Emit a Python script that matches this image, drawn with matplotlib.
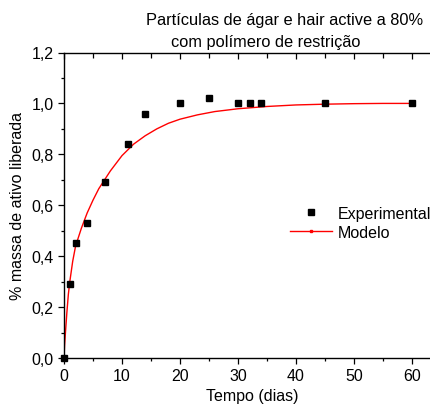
import matplotlib
matplotlib.use("Agg")
import matplotlib.pyplot as plt
from matplotlib.lines import Line2D, TICKDOWN
from matplotlib.ticker import MultipleLocator, FuncFormatter

plt.rcParams['font.family'] = ['Liberation Sans', 'DejaVu Sans']

# Experimental data
t_exp = [0, 1, 2, 4, 7, 11, 14, 20, 25, 30, 32, 34, 45, 60]
y_exp = [0.0, 0.29, 0.45, 0.53, 0.69, 0.84, 0.96, 1.00, 1.02, 1.00, 1.00, 1.00, 1.00, 1.00]

# Model curve
t_mod = [0, 0.1, 0.25, 0.5, 0.75, 1, 1.5, 2, 3, 4, 5, 6, 7, 8, 10, 12, 14, 16, 18, 20,
         23, 26, 30, 35, 40, 45, 50, 55, 60]
y_mod = [0.0, 0.05, 0.10, 0.18, 0.25, 0.30, 0.38, 0.44, 0.51, 0.57, 0.62, 0.665, 0.70,
         0.735, 0.795, 0.84, 0.873, 0.90, 0.922, 0.938, 0.955, 0.968, 0.979, 0.988,
         0.994, 0.997, 0.999, 1.0, 1.0]

title1 = "Partículas de ágar e hair active a 80%"
title2 = "com polímero de restrição"

FS = 11.5
W, H = 431, 410
fig = plt.figure(figsize=(W / 100, H / 100), dpi=100)
ax = fig.add_axes([64 / W, 1 - 359 / H, (441 - 64) / W, (359 - 53.5) / H])

ax.plot(t_mod, y_mod, color='red', lw=1.0, zorder=2)
ax.plot(t_exp, y_exp, 's', color='black', ms=4.8, zorder=3, clip_on=False)

ax.set_xlim(0, 65)
ax.set_ylim(0, 1.2)
ax.xaxis.set_major_locator(MultipleLocator(10))
ax.xaxis.set_minor_locator(MultipleLocator(5))
ax.yaxis.set_major_locator(MultipleLocator(0.2))
ax.yaxis.set_minor_locator(MultipleLocator(0.1))
ax.yaxis.set_major_formatter(FuncFormatter(lambda v, p: f"{v:.1f}".replace('.', ',')))
ax.xaxis.set_major_formatter(FuncFormatter(lambda v, p: f"{v:.0f}"))

ax.spines['right'].set_visible(False)
for s in ['left', 'bottom', 'top']:
    ax.spines[s].set_linewidth(1.0)

ax.tick_params(axis='both', which='major', direction='out', length=4.5, width=0.9,
               labelsize=FS, pad=3)
ax.tick_params(axis='both', which='minor', direction='out', length=2.5, width=0.9)
ax.tick_params(axis='x', which='both', top=True)

# top ticks point inward
for tk in ax.xaxis.get_major_ticks():
    tk.tick2line.set_marker(TICKDOWN)
    tk.tick2line.set_markersize(4.5)
for tk in ax.xaxis.get_minor_ticks():
    tk.tick2line.set_marker(TICKDOWN)
    tk.tick2line.set_markersize(3.5)

ax.set_xlabel("Tempo (dias)", fontsize=FS, va='center')
ax.set_ylabel("% massa de ativo liberada", fontsize=FS, va='center')
ax.xaxis.set_label_coords((252.5 - 64) / 377, (359 - 397) / 305.5)
ax.yaxis.set_label_coords((18 - 64) / 377, 0.5)

fig.text(284.5 / W, 1 - 20 / H, title1, ha='center', va='center', fontsize=FS + 0.3)
fig.text(266 / W, 1 - 43 / H, title2, ha='center', va='center', fontsize=FS + 0.3)

handles = [Line2D([], [], marker='s', color='black', ls='none', ms=4.8),
           Line2D([], [], color='red', lw=1.0, marker='s', ms=1.5)]
leg = ax.legend(handles, ["Experimental", "Modelo"], loc='center left',
                bbox_to_anchor=(290 / W, 1 - 224 / H), bbox_transform=fig.transFigure,
                frameon=False, fontsize=FS, handlelength=2.6, handletextpad=0.4,
                labelspacing=0.25, borderpad=0, borderaxespad=0)

fig.savefig("out.png", dpi=100)
